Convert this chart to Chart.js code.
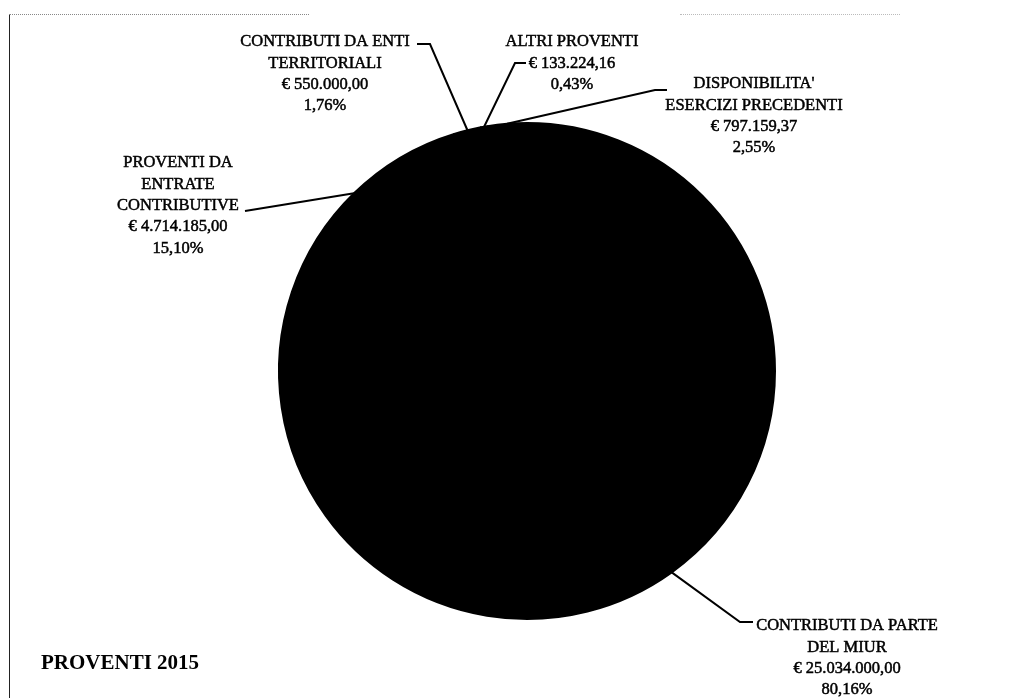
<!DOCTYPE html>
<html>
<head>
<meta charset="utf-8">
<script src="https://cdn.jsdelivr.net/npm/chart.js@4.4.0/dist/chart.umd.min.js"></script>
<style>
    html, body { margin: 0; padding: 0; background: #fff; }
    #wrap { position: relative; width: 1031px; height: 698px; }
    #frame { position: absolute; left: 9px; top: 14px; width: 0; height: 684px; border-left: 1px solid #222; }
    #dots { position: absolute; left: 9px; top: 14px; width: 300px; height: 0; border-top: 1px dotted #888; }
    #dots2 { position: absolute; left: 680px; top: 14px; width: 220px; height: 0; border-top: 1px dotted #bbb; }
    canvas { position: absolute; left: 0; top: 0; }
</style>
</head>
<body>
<div id="wrap">
    <canvas id="chart" width="1031" height="698"></canvas>
    <div id="frame"></div>
    <div id="dots"></div>
    <div id="dots2"></div>
</div>
<script>
// data
const categories = [
    ['CONTRIBUTI DA PARTE', 'DEL MIUR'],
    ['PROVENTI DA', 'ENTRATE', 'CONTRIBUTIVE'],
    ['CONTRIBUTI DA ENTI', 'TERRITORIALI'],
    ['ALTRI PROVENTI'],
    ['DISPONIBILITA\'', 'ESERCIZI PRECEDENTI']
];
const amounts = [25034000.00, 4714185.00, 550000.00, 133224.16, 797159.37];
const chartTitle = 'PROVENTI 2015';

// where each label block sits (text centre x, first line y) and the elbow of its leader line
const labelLayout = [
    { x: 847, y: 626, lineY: 622, elbowX: 740, endX: 753 },
    { x: 178, y: 163, lineY: 211, elbowX: 245, endX: 245 },
    { x: 325, y: 42, lineY: 44, elbowX: 430, endX: 417 },
    { x: 572, y: 42, lineY: 63, elbowX: 515, endX: 526 },
    { x: 754, y: 84, lineY: 90, elbowX: 655, endX: 667 }
];

const total = amounts.reduce((a, b) => a + b, 0);

function formatEuro(v) {
    const parts = v.toFixed(2).split('.');
    const intPart = parts[0].replace(/\B(?=(\d{3})+(?!\d))/g, '.');
    return '\u20AC ' + intPart + ',' + parts[1];
}

function formatPct(v) {
    return (v * 100).toFixed(2).replace('.', ',') + '%';
}

const lineHeight = 21.3;
const labelFont = '16.5px "Liberation Serif", serif';

const leaderLabels = {
    id: 'leaderLabels',
    afterDraw(chart) {
        const ctx = chart.ctx;
        const meta = chart.getDatasetMeta(0);
        ctx.save();
        meta.data.forEach((arc, i) => {
            const props = arc.getProps(['x', 'y', 'startAngle', 'endAngle', 'outerRadius']);
            const mid = (props.startAngle + props.endAngle) / 2;
            const px = props.x + Math.cos(mid) * props.outerRadius;
            const py = props.y + Math.sin(mid) * props.outerRadius;
            const lay = labelLayout[i];

            ctx.strokeStyle = '#000';
            ctx.lineWidth = 2;
            ctx.beginPath();
            ctx.moveTo(px, py);
            ctx.lineTo(lay.elbowX, lay.lineY);
            ctx.lineTo(lay.endX, lay.lineY);
            ctx.stroke();

            const lines = categories[i].concat([formatEuro(amounts[i]), formatPct(amounts[i] / total)]);
            ctx.fillStyle = '#000';
            ctx.font = labelFont;
            ctx.textAlign = 'center';
            ctx.textBaseline = 'middle';
            ctx.lineWidth = 0.5;
            lines.forEach((t, k) => {
                ctx.fillText(t, lay.x, lay.y + k * lineHeight);
                ctx.strokeText(t, lay.x, lay.y + k * lineHeight);
            });
        });

        ctx.font = 'bold 21px "Liberation Serif", serif';
        ctx.textAlign = 'left';
        ctx.textBaseline = 'middle';
        ctx.fillText(chartTitle, 41, 664);
        ctx.restore();
    }
};

const config = {
    type: 'pie',
    data: {
        labels: categories.map(c => c.join(' ')),
        datasets: [{
            data: amounts,
            backgroundColor: '#000',
            borderColor: '#000',
            borderWidth: 2,
            borderJoinStyle: 'round'
        }]
    },
    plugins: [leaderLabels],
    options: {
        responsive: false,
        animation: false,
        layout: {
            padding: { top: 122, bottom: 78, left: 278, right: 255 }
        },
        plugins: {
            legend: { display: false },
            tooltip: { enabled: false }
        }
    }
};

new Chart(document.getElementById('chart').getContext('2d'), config);
</script>
</body>
</html>
